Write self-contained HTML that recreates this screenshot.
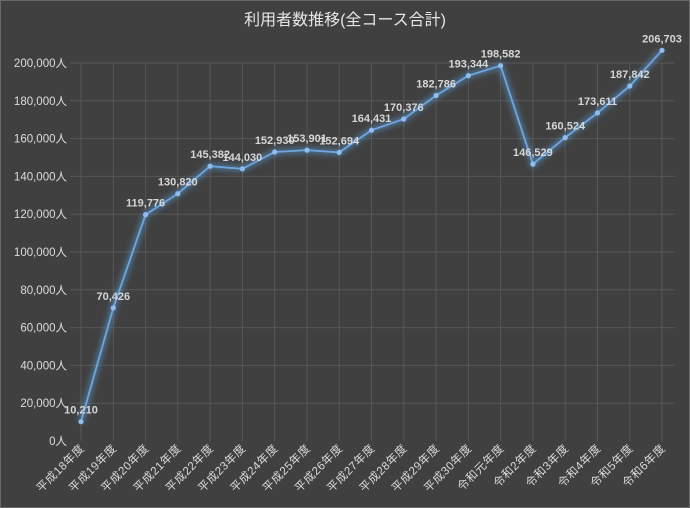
<!DOCTYPE html>
<html><head><meta charset="utf-8"><style>
html,body{margin:0;padding:0;background:#404040;}
svg{display:block;font-family:"Liberation Sans","Noto Sans CJK JP",sans-serif;}
</style></head><body>
<svg width="690" height="508" viewBox="0 0 690 508" xmlns="http://www.w3.org/2000/svg">
<defs><filter id="g" x="-10%" y="-10%" width="120%" height="120%"><feGaussianBlur stdDeviation="3"/></filter></defs>
<rect x="0.5" y="0.5" width="689" height="507" fill="#404040" stroke="#6a6a6a"/>
<text x="345" y="25" fill="#e6e6e6" font-size="16" text-anchor="middle">利用者数推移(全コース合計)</text>
<g stroke="#575757" stroke-width="1">
<line x1="70" x2="675" y1="403.2" y2="403.2"/><line x1="70" x2="675" y1="365.4" y2="365.4"/><line x1="70" x2="675" y1="327.6" y2="327.6"/><line x1="70" x2="675" y1="289.8" y2="289.8"/><line x1="70" x2="675" y1="252" y2="252"/><line x1="70" x2="675" y1="214.2" y2="214.2"/><line x1="70" x2="675" y1="176.4" y2="176.4"/><line x1="70" x2="675" y1="138.6" y2="138.6"/><line x1="70" x2="675" y1="100.8" y2="100.8"/><line x1="70" x2="675" y1="63" y2="63"/>
<line x1="81" x2="81" y1="63" y2="441"/><line x1="113.3" x2="113.3" y1="63" y2="441"/><line x1="145.6" x2="145.6" y1="63" y2="441"/><line x1="177.8" x2="177.8" y1="63" y2="441"/><line x1="210.1" x2="210.1" y1="63" y2="441"/><line x1="242.4" x2="242.4" y1="63" y2="441"/><line x1="274.7" x2="274.7" y1="63" y2="441"/><line x1="307" x2="307" y1="63" y2="441"/><line x1="339.2" x2="339.2" y1="63" y2="441"/><line x1="371.5" x2="371.5" y1="63" y2="441"/><line x1="403.8" x2="403.8" y1="63" y2="441"/><line x1="436.1" x2="436.1" y1="63" y2="441"/><line x1="468.4" x2="468.4" y1="63" y2="441"/><line x1="500.6" x2="500.6" y1="63" y2="441"/><line x1="532.9" x2="532.9" y1="63" y2="441"/><line x1="565.2" x2="565.2" y1="63" y2="441"/><line x1="597.5" x2="597.5" y1="63" y2="441"/><line x1="629.8" x2="629.8" y1="63" y2="441"/><line x1="662" x2="662" y1="63" y2="441"/>
</g>
<g fill="#dcdcdc" font-size="11.5" text-anchor="end">
<text x="67" y="445">0人</text><text x="67" y="407.2">20,000人</text><text x="67" y="369.4">40,000人</text><text x="67" y="331.6">60,000人</text><text x="67" y="293.8">80,000人</text><text x="67" y="256">100,000人</text><text x="67" y="218.2">120,000人</text><text x="67" y="180.4">140,000人</text><text x="67" y="142.6">160,000人</text><text x="67" y="104.8">180,000人</text><text x="67" y="67">200,000人</text>
</g>
<g fill="#dcdcdc" font-size="11.5" text-anchor="end" letter-spacing="0.5">
<text x="85" y="449" transform="rotate(-45 85 449)">平成18年度</text>
<text x="117.3" y="449" transform="rotate(-45 117.3 449)">平成19年度</text>
<text x="149.6" y="449" transform="rotate(-45 149.6 449)">平成20年度</text>
<text x="181.8" y="449" transform="rotate(-45 181.8 449)">平成21年度</text>
<text x="214.1" y="449" transform="rotate(-45 214.1 449)">平成22年度</text>
<text x="246.4" y="449" transform="rotate(-45 246.4 449)">平成23年度</text>
<text x="278.7" y="449" transform="rotate(-45 278.7 449)">平成24年度</text>
<text x="311" y="449" transform="rotate(-45 311 449)">平成25年度</text>
<text x="343.2" y="449" transform="rotate(-45 343.2 449)">平成26年度</text>
<text x="375.5" y="449" transform="rotate(-45 375.5 449)">平成27年度</text>
<text x="407.8" y="449" transform="rotate(-45 407.8 449)">平成28年度</text>
<text x="440.1" y="449" transform="rotate(-45 440.1 449)">平成29年度</text>
<text x="472.4" y="449" transform="rotate(-45 472.4 449)">平成30年度</text>
<text x="504.6" y="449" transform="rotate(-45 504.6 449)">令和元年度</text>
<text x="536.9" y="449" transform="rotate(-45 536.9 449)">令和2年度</text>
<text x="569.2" y="449" transform="rotate(-45 569.2 449)">令和3年度</text>
<text x="601.5" y="449" transform="rotate(-45 601.5 449)">令和4年度</text>
<text x="633.8" y="449" transform="rotate(-45 633.8 449)">令和5年度</text>
<text x="666" y="449" transform="rotate(-45 666 449)">令和6年度</text>
</g>
<polyline points="81,421.7 113.3,307.9 145.6,214.6 177.8,193.7 210.1,166.2 242.4,168.8 274.7,152 307,150.1 339.2,152.4 371.5,130.2 403.8,119 436.1,95.5 468.4,75.6 500.6,65.7 532.9,164.1 565.2,137.6 597.5,112.9 629.8,86 662,50.3" fill="none" stroke="#5b9bd5" stroke-width="6" opacity="0.55" filter="url(#g)"/>
<polyline points="81,421.7 113.3,307.9 145.6,214.6 177.8,193.7 210.1,166.2 242.4,168.8 274.7,152 307,150.1 339.2,152.4 371.5,130.2 403.8,119 436.1,95.5 468.4,75.6 500.6,65.7 532.9,164.1 565.2,137.6 597.5,112.9 629.8,86 662,50.3" fill="none" stroke="#6ea6e0" stroke-width="1.8"/>
<g fill="#8fbdf0">
<circle cx="81" cy="421.7" r="2.6"/><circle cx="113.3" cy="307.9" r="2.6"/><circle cx="145.6" cy="214.6" r="2.6"/><circle cx="177.8" cy="193.7" r="2.6"/><circle cx="210.1" cy="166.2" r="2.6"/><circle cx="242.4" cy="168.8" r="2.6"/><circle cx="274.7" cy="152" r="2.6"/><circle cx="307" cy="150.1" r="2.6"/><circle cx="339.2" cy="152.4" r="2.6"/><circle cx="371.5" cy="130.2" r="2.6"/><circle cx="403.8" cy="119" r="2.6"/><circle cx="436.1" cy="95.5" r="2.6"/><circle cx="468.4" cy="75.6" r="2.6"/><circle cx="500.6" cy="65.7" r="2.6"/><circle cx="532.9" cy="164.1" r="2.6"/><circle cx="565.2" cy="137.6" r="2.6"/><circle cx="597.5" cy="112.9" r="2.6"/><circle cx="629.8" cy="86" r="2.6"/><circle cx="662" cy="50.3" r="2.6"/>
</g>
<g fill="#d6d6d6" font-size="11" font-weight="bold" text-anchor="middle">
<text x="81" y="413.7">10,210</text><text x="113.3" y="299.9">70,426</text><text x="145.6" y="206.6">119,776</text><text x="177.8" y="185.7">130,820</text><text x="210.1" y="158.2">145,382</text><text x="242.4" y="160.8">144,030</text><text x="274.7" y="144">152,930</text><text x="307" y="142.1">153,901</text><text x="339.2" y="144.4">152,694</text><text x="371.5" y="122.2">164,431</text><text x="403.8" y="111">170,376</text><text x="436.1" y="87.5">182,786</text><text x="468.4" y="67.6">193,344</text><text x="500.6" y="57.7">198,582</text><text x="532.9" y="156.1">146,529</text><text x="565.2" y="129.6">160,524</text><text x="597.5" y="104.9">173,611</text><text x="629.8" y="78">187,842</text><text x="662" y="42.3">206,703</text>
</g>
</svg>
</body></html>
